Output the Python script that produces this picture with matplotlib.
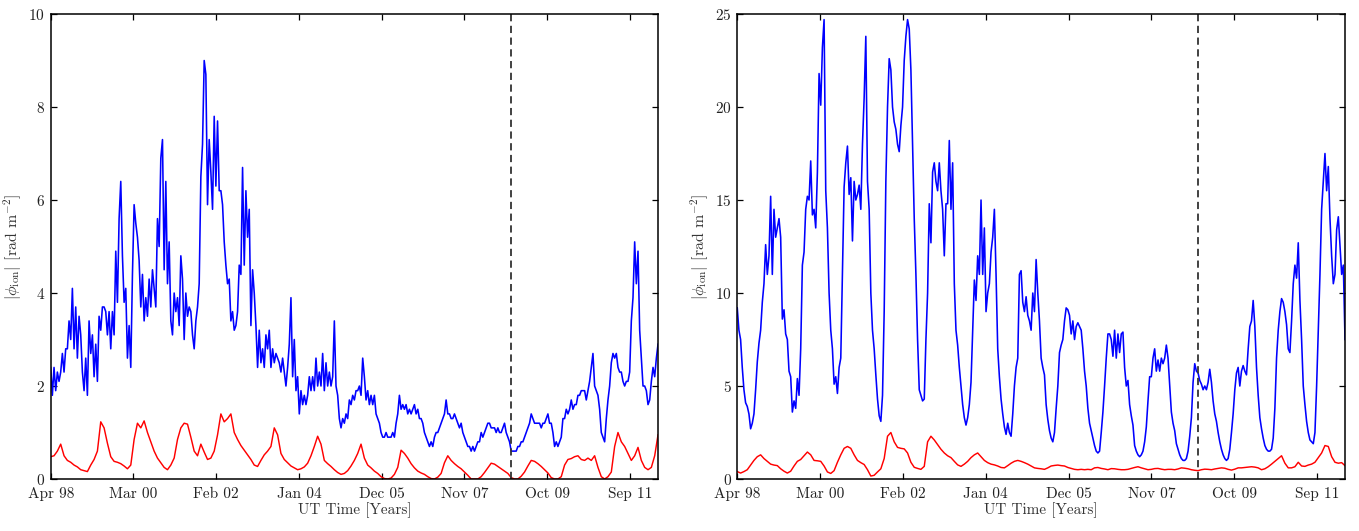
import matplotlib
matplotlib.use("Agg")
import matplotlib.pyplot as plt
import numpy as np
import pandas as pd

plt.rcParams["font.family"] = "serif"
plt.rcParams["font.serif"] = ["cmr10", "DejaVu Serif"]
plt.rcParams["mathtext.fontset"] = "cm"
plt.rcParams["axes.formatter.use_mathtext"] = True

# time span of both panels
t_start = pd.Timestamp("1998-04-15")
t_end = pd.Timestamp("2012-05-08")
t_event = pd.Timestamp("2008-12-12")
tick_step_days = 700

# left panel, blue curve (~2-weekly)
left_blue = [
    2.4, 1.8, 2.4, 1.9, 2.3, 2.1, 2.3, 2.7, 2.3, 2.8, 2.8, 3.4, 3.0, 4.1, 2.8, 3.7, 2.6, 3.5, 3.1, 2.3,
    1.9, 2.6, 1.8, 3.4, 2.7, 3.1, 2.2, 2.9, 2.1, 3.5, 3.2, 3.7, 3.7, 3.6, 3.1, 3.6, 2.8, 3.6, 3.1, 4.9,
    3.8, 5.6, 6.4, 4.8, 3.8, 4.1, 2.6, 3.3, 2.4, 4.4, 5.9, 5.5, 5.2, 4.7, 3.7, 4.4, 3.4, 3.9, 3.5, 4.3,
    3.7, 4.5, 4.1, 3.7, 5.6, 5.0, 6.9, 7.3, 4.5, 6.4, 4.2, 5.1, 3.4, 3.1, 4.0, 3.6, 3.9, 3.3, 4.8, 4.3,
    3.0, 4.0, 3.5, 3.7, 3.6, 3.1, 2.8, 3.4, 3.7, 4.2, 6.5, 7.2, 9.0, 8.7, 5.9, 7.3, 6.6, 5.8, 7.8, 6.3,
    7.7, 6.2, 6.2, 5.9, 5.1, 4.6, 4.2, 4.3, 3.4, 3.6, 3.2, 3.3, 3.6, 4.6, 4.4, 6.7, 4.6, 6.2, 5.2, 5.8,
    3.3, 4.5, 4.0, 3.3, 2.4, 3.2, 2.5, 2.8, 2.4, 3.1, 2.8, 3.2, 2.4, 2.8, 2.5, 2.7, 2.6, 2.5, 2.3, 2.6,
    2.3, 2.0, 2.4, 2.9, 3.9, 2.2, 3.0, 1.9, 2.2, 1.4, 1.9, 1.6, 1.8, 1.6, 1.8, 2.2, 1.9, 2.2, 1.9, 2.6,
    2.0, 2.3, 2.0, 2.7, 1.9, 2.5, 2.0, 2.3, 2.0, 2.2, 3.4, 2.0, 1.8, 1.3, 1.1, 1.3, 1.2, 1.4, 1.3, 1.7,
    1.6, 1.8, 1.7, 1.9, 1.9, 2.0, 1.8, 2.6, 2.2, 1.7, 1.9, 1.6, 1.8, 1.6, 1.8, 1.4, 1.3, 1.2, 1.0, 0.9,
    0.9, 1.0, 0.9, 0.9, 0.9, 1.0, 0.9, 1.2, 1.4, 1.8, 1.5, 1.6, 1.5, 1.6, 1.4, 1.5, 1.4, 1.5, 1.6, 1.4,
    1.5, 1.3, 1.3, 1.2, 1.0, 0.9, 0.8, 0.7, 0.8, 0.7, 0.9, 1.0, 1.0, 1.1, 1.2, 1.3, 1.4, 1.7, 1.4, 1.4,
    1.3, 1.3, 1.4, 1.3, 1.2, 1.1, 1.2, 1.0, 0.9, 0.8, 0.7, 0.7, 0.6, 0.7, 0.6, 0.7, 0.8, 0.8, 1.0, 0.9,
    1.0, 1.1, 1.2, 1.2, 1.1, 1.1, 1.1, 1.0, 1.1, 1.0, 1.0, 1.1, 1.2, 1.0, 0.9, 0.8, 0.6, 0.6, 0.6, 0.6,
    0.7, 0.7, 0.8, 0.8, 0.9, 1.0, 1.1, 1.2, 1.4, 1.3, 1.2, 1.2, 1.2, 1.2, 1.1, 1.2, 1.2, 1.3, 1.4, 1.2,
    1.2, 1.0, 0.7, 0.8, 0.7, 0.8, 0.9, 1.3, 1.3, 1.5, 1.4, 1.5, 1.7, 1.5, 1.6, 1.6, 1.8, 1.8, 1.9, 1.9,
    1.9, 1.7, 1.9, 2.1, 2.4, 2.7, 2.0, 1.9, 1.8, 1.5, 1.0, 0.9, 0.8, 1.3, 1.7, 2.0, 2.5, 2.7, 2.6, 2.7,
    2.4, 2.3, 2.3, 2.1, 2.0, 2.1, 2.1, 2.3, 3.4, 3.9, 5.1, 4.2, 4.9, 3.2, 2.6, 2.0, 2.0, 1.9, 1.6, 1.7,
    2.1, 2.4, 2.2, 2.6, 2.9,
]

# left panel, red curve (~monthly)
left_red = [
    0.48, 0.5, 0.6, 0.75, 0.5, 0.4, 0.36, 0.3, 0.26, 0.2, 0.18, 0.16, 0.3, 0.42, 0.6, 1.23, 1.1, 0.77, 0.48, 0.38,
    0.36, 0.33, 0.28, 0.22, 0.3, 0.85, 1.2, 1.1, 1.25, 1.0, 0.8, 0.6, 0.45, 0.35, 0.25, 0.2, 0.3, 0.45, 0.85, 1.1,
    1.2, 1.18, 0.9, 0.6, 0.5, 0.75, 0.58, 0.42, 0.45, 0.6, 0.95, 1.4, 1.23, 1.3, 1.4, 1.0, 0.85, 0.72, 0.62, 0.52,
    0.42, 0.3, 0.27, 0.4, 0.52, 0.6, 0.7, 1.1, 0.95, 0.55, 0.42, 0.35, 0.28, 0.24, 0.2, 0.22, 0.26, 0.34, 0.5, 0.7,
    0.92, 0.75, 0.4, 0.33, 0.27, 0.2, 0.14, 0.1, 0.12, 0.18, 0.28, 0.4, 0.55, 0.75, 0.45, 0.3, 0.24, 0.17, 0.12, 0.05,
    0.01, 0.0, 0.02, 0.1, 0.25, 0.62, 0.55, 0.45, 0.33, 0.24, 0.17, 0.13, 0.1, 0.05, 0.01, 0.0, 0.04, 0.12, 0.35, 0.5,
    0.4, 0.33, 0.27, 0.22, 0.15, 0.08, 0.0, 0.0, 0.0, 0.05, 0.14, 0.24, 0.34, 0.32, 0.27, 0.22, 0.17, 0.12, 0.03, 0.0,
    0.0, 0.06, 0.15, 0.28, 0.4, 0.38, 0.33, 0.27, 0.2, 0.13, 0.03, 0.0, 0.0, 0.05, 0.3, 0.42, 0.44, 0.48, 0.5, 0.42,
    0.4, 0.45, 0.4, 0.5, 0.25, 0.05, 0.0, 0.05, 0.15, 0.7, 1.0, 0.8, 0.7, 0.55, 0.4, 0.5, 0.68, 0.4, 0.25, 0.2,
    0.25, 0.5, 0.95,
]

# right panel, blue curve (~2-weekly)
right_blue = [
    9.2, 8.0, 7.5, 6.0, 4.8, 4.1, 3.9, 3.5, 2.7, 3.0, 3.5, 4.8, 6.3, 7.3, 8.0, 9.5, 10.5, 12.6, 11.0, 12.0,
    15.2, 11.0, 14.5, 13.0, 13.5, 14.0, 13.0, 8.6, 9.1, 7.8, 7.5, 5.8, 5.5, 3.6, 4.2, 3.8, 5.4, 4.5, 7.0, 11.5,
    12.2, 14.5, 15.2, 15.0, 17.1, 14.2, 14.5, 13.5, 16.5, 21.8, 20.1, 23.2, 24.7, 15.5, 13.5, 10.0, 8.0, 7.0, 5.1, 5.5,
    4.6, 6.0, 6.5, 11.0, 15.7, 17.0, 17.9, 15.3, 16.2, 12.8, 16.0, 15.0, 15.3, 15.8, 14.5, 18.0, 20.5, 23.8, 16.0, 14.5,
    10.0, 8.0, 7.0, 5.6, 4.3, 3.4, 3.1, 4.5, 9.0, 16.0, 20.0, 22.6, 22.0, 20.0, 19.2, 18.8, 18.0, 17.6, 19.0, 20.0,
    22.5, 23.8, 24.7, 24.2, 22.0, 18.0, 14.0, 11.0, 7.5, 4.8, 4.5, 4.2, 4.3, 7.5, 10.0, 14.8, 12.7, 16.5, 17.0, 16.0,
    15.5, 17.0, 15.5, 14.5, 12.0, 14.8, 14.8, 18.2, 14.5, 17.0, 10.5, 8.0, 7.2, 6.0, 5.0, 4.0, 3.3, 2.9, 3.3, 4.0,
    5.2, 8.0, 10.7, 9.6, 12.0, 11.0, 15.0, 11.0, 13.5, 9.0, 10.0, 10.5, 12.2, 13.0, 14.5, 11.0, 7.0, 5.5, 4.3, 3.5,
    2.8, 2.4, 3.0, 2.5, 2.3, 3.5, 5.0, 6.0, 6.5, 11.0, 11.2, 9.5, 9.0, 9.8, 8.8, 8.5, 8.0, 10.0, 9.0, 11.8,
    10.0, 8.5, 6.5, 6.0, 5.6, 4.0, 3.2, 2.6, 2.2, 2.0, 2.5, 3.8, 5.0, 6.8, 7.2, 7.5, 8.5, 9.2, 9.1, 8.8,
    7.8, 8.5, 7.5, 8.2, 8.4, 8.2, 8.0, 7.0, 5.8, 5.0, 3.8, 3.0, 2.6, 2.2, 1.8, 1.5, 1.4, 1.5, 2.5, 3.6,
    5.0, 6.5, 7.8, 7.8, 7.5, 6.6, 8.0, 6.5, 7.8, 6.8, 7.8, 7.9, 6.0, 5.0, 5.3, 4.0, 3.4, 2.9, 1.8, 1.5,
    1.3, 1.2, 1.3, 1.5, 2.0, 2.8, 4.2, 5.5, 5.5, 6.5, 7.0, 5.8, 6.4, 5.8, 6.5, 6.2, 6.5, 7.2, 6.5, 5.0,
    3.6, 3.0, 2.6, 1.9, 1.6, 1.3, 1.1, 1.0, 1.0, 1.1, 1.5, 2.3, 3.3, 5.2, 6.2, 5.8, 5.7, 5.3, 5.1, 4.8,
    5.0, 4.8, 5.2, 5.9, 5.2, 4.2, 3.5, 3.1, 2.5, 2.0, 1.6, 1.3, 1.1, 1.0, 1.1, 1.6, 2.5, 3.5, 4.8, 5.7,
    6.0, 5.0, 5.8, 6.1, 5.8, 5.6, 7.0, 8.2, 8.5, 9.6, 8.2, 6.0, 4.5, 3.3, 2.7, 2.2, 1.8, 1.6, 1.5, 1.5,
    1.6, 2.2, 3.8, 6.5, 8.0, 9.0, 9.7, 9.5, 9.0, 8.3, 7.0, 6.8, 8.5, 10.5, 11.5, 10.8, 12.7, 9.6, 7.5, 5.0,
    4.0, 3.1, 2.5, 2.1, 2.0, 1.9, 2.5, 5.0, 8.0, 11.0, 14.5, 16.0, 17.5, 15.5, 16.8, 14.0, 12.0, 10.5, 11.0, 13.4,
    14.1, 12.6, 11.0, 11.5, 7.5,
]

# right panel, red curve (~monthly)
right_red = [
    0.4, 0.32, 0.4, 0.5, 0.75, 1.0, 1.2, 1.3, 1.1, 0.95, 0.8, 0.75, 0.72, 0.55, 0.42, 0.32, 0.42, 0.7, 0.95, 1.05,
    1.25, 1.45, 1.3, 1.0, 0.98, 0.95, 0.7, 0.38, 0.3, 0.45, 0.9, 1.3, 1.65, 1.75, 1.65, 1.3, 1.0, 0.88, 0.78, 0.5,
    0.16, 0.2, 0.38, 0.55, 1.1, 2.3, 2.5, 2.0, 1.7, 1.65, 1.62, 1.4, 0.9, 0.63, 0.57, 0.52, 0.68, 2.0, 2.3, 2.1,
    1.85, 1.6, 1.4, 1.25, 1.15, 0.95, 0.76, 0.68, 0.8, 0.95, 1.15, 1.3, 1.4, 1.2, 1.0, 0.88, 0.8, 0.76, 0.7, 0.62,
    0.6, 0.72, 0.85, 0.95, 1.0, 0.95, 0.88, 0.8, 0.7, 0.6, 0.57, 0.55, 0.52, 0.6, 0.7, 0.73, 0.75, 0.72, 0.7, 0.62,
    0.57, 0.52, 0.5, 0.52, 0.5, 0.52, 0.5, 0.6, 0.62, 0.57, 0.54, 0.5, 0.56, 0.55, 0.52, 0.5, 0.5, 0.52, 0.57, 0.62,
    0.66, 0.6, 0.55, 0.5, 0.52, 0.56, 0.57, 0.53, 0.5, 0.52, 0.52, 0.5, 0.54, 0.6, 0.58, 0.55, 0.5, 0.47, 0.45, 0.5,
    0.53, 0.52, 0.5, 0.54, 0.57, 0.6, 0.58, 0.52, 0.48, 0.53, 0.6, 0.6, 0.62, 0.64, 0.66, 0.64, 0.6, 0.5, 0.55, 0.66,
    0.8, 0.95, 1.1, 1.25, 0.85, 0.6, 0.6, 0.66, 0.9, 0.7, 0.68, 0.75, 0.8, 0.9, 1.15, 1.4, 1.8, 1.75, 1.2, 0.9,
    0.85, 0.88, 0.72,
]

y_max = [10, 25]
y_ticks = [np.arange(0, 11, 2), np.arange(0, 26, 5)]

f_size = 11
fig = plt.figure(figsize=(13.59, 5.31), dpi=100)
ax_l = fig.add_axes([0.0373, 0.0979, 0.4469, 0.8757])
ax_r = fig.add_axes([0.5425, 0.0979, 0.4472, 0.8757])

tick_dates = [t_start + pd.Timedelta(days=tick_step_days * k) for k in range(8)]

for i, (ax, blue, red) in enumerate([(ax_l, left_blue, left_red), (ax_r, right_blue, right_red)]):
    t_blue = pd.date_range(t_start, t_end, periods=len(blue))
    t_red = pd.date_range(t_start, t_end, periods=len(red))
    ax.plot(t_blue, blue, color="#0000ff", lw=1.15)
    ax.plot(t_red, red, color="#ff0000", lw=1.05)
    ax.axvline(t_event, color="#333333", lw=1.3, ls=(0, (4, 2.5)))

    ax.set_xlim(t_start, t_end)
    ax.set_ylim(0, y_max[i])
    ax.set_xticks(tick_dates)
    ax.set_xticklabels([t.strftime("%b %y") for t in tick_dates])
    ax.set_yticks(y_ticks[i])
    ax.tick_params(direction="in", top=True, right=True, length=4, width=0.9,
                   labelsize=f_size, labelcolor="#222222")
    ax.tick_params(axis="x", pad=6)
    ax.tick_params(axis="y", pad=4)
    for sp in ax.spines.values():
        sp.set_linewidth(1.1)
    ax.set_xlabel("UT Time [Years]", fontsize=f_size, color="#333333", labelpad=1)
    ax.set_ylabel(r"$|\phi_{\rm ion}|$ [rad m$^{-2}$]", fontsize=11.5, color="#333333", labelpad=3)

fig.savefig("out.png", dpi=100)
